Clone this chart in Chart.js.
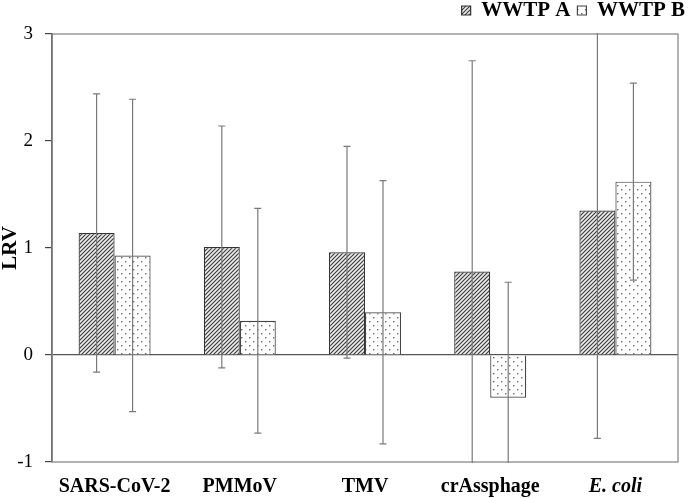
<!DOCTYPE html>
<html>
<head>
<meta charset="utf-8">
<script src="https://cdn.jsdelivr.net/npm/chart.js@4/dist/chart.umd.min.js"></script>
<style>
	body{margin:0;background:#fff;}
	#wrap{width:692px;height:498px;position:relative;}
</style>
</head>
<body>
<div id="wrap"><canvas id="chart"></canvas></div>
<script>
let categories = ['SARS-CoV-2','PMMoV','TMV','crAssphage','E. coli'];
let wwtpA = [1.14, 1.01, 0.96, 0.78, 1.35];
let wwtpB = [0.93, 0.32, 0.40, -0.40, 1.62];
let errA = [1.30, 1.13, 0.99, 1.97, 2.13];
let errB = [1.46, 1.05, 1.23, 1.08, 0.92];
let yTicks = [-1, 0, 1, 2, 3];

let serif = '"Liberation Serif", "Times New Roman", serif';

function hatchPattern(){
	let c = document.createElement('canvas');
	c.width = 4; c.height = 4;
	let g = c.getContext('2d');
	g.fillStyle = '#ececec';
	g.fillRect(0,0,4,4);
	g.strokeStyle = '#3a3a3a';
	g.lineWidth = 1.1;
	g.beginPath();
	g.moveTo(-1,5); g.lineTo(5,-1);
	g.moveTo(-1,1); g.lineTo(1,-1);
	g.moveTo(3,5); g.lineTo(5,3);
	g.stroke();
	return g.createPattern(c,'repeat');
}

function dotPattern(){
	let c = document.createElement('canvas');
	c.width = 8; c.height = 8;
	let g = c.getContext('2d');
	g.fillStyle = '#ffffff';
	g.fillRect(0,0,8,8);
	g.fillStyle = '#6a6a6a';
	g.fillRect(1,1,1.4,1.4);
	g.fillRect(5,5,1.4,1.4);
	return g.createPattern(c,'repeat');
}

// error bars, clipped to the plot area
let errorBars = {
	id:'errorBars',
	afterDatasetsDraw(chart){
		let ctx = chart.ctx;
		let y = chart.scales.y;
		let area = chart.chartArea;
		let errs = [errA, errB];
		ctx.save();
		ctx.beginPath();
		ctx.rect(area.left, area.top - 1, area.right - area.left, area.bottom - area.top + 2);
		ctx.clip();
		ctx.strokeStyle = '#7a7a7a';
		ctx.lineWidth = 1.2;
		chart.data.datasets.forEach(function(ds, i){
			let meta = chart.getDatasetMeta(i);
			meta.data.forEach(function(bar, j){
				let v = ds.data[j];
				let hi = y.getPixelForValue(v + errs[i][j]);
				let lo = y.getPixelForValue(v - errs[i][j]);
				ctx.beginPath();
				ctx.moveTo(bar.x, hi); ctx.lineTo(bar.x, lo);
				ctx.moveTo(bar.x - 3.5, hi); ctx.lineTo(bar.x + 3.5, hi);
				ctx.moveTo(bar.x - 3.5, lo); ctx.lineTo(bar.x + 3.5, lo);
				ctx.stroke();
			});
		});
		ctx.restore();
	}
};

// plot frame and legend placement
let frame = {
	id:'frame',
	beforeInit(chart){
		let fit = chart.legend.fit;
		chart.legend.fit = function(){
			fit.bind(chart.legend)();
			this.height = 34;
		};
	},
	afterLayout(chart){
		chart.legend.top = -7;
	},
	beforeDatasetsDraw(chart){
		let ctx = chart.ctx;
		let a = chart.chartArea;
		ctx.save();
		ctx.strokeStyle = '#8a8a8a';
		ctx.lineWidth = 1.3;
		ctx.strokeRect(a.left, a.top, a.right - a.left, a.bottom - a.top);
		ctx.restore();
	}
};

let ctx = document.getElementById('chart');

let dataChart = {
	labels:categories,
	datasets:[{
		label:'WWTP A',
		data:wwtpA,
		backgroundColor:hatchPattern(),
		borderColor:'#333333',
		borderWidth:1.2
	},{
		label:'WWTP B',
		data:wwtpB,
		backgroundColor:dotPattern(),
		borderColor:'#444444',
		borderWidth:1.2
	}]
};

let myChart = new Chart(ctx,{
	type:'bar',
	data:dataChart,
	plugins:[errorBars, frame],
	options:{
		responsive:true,
		maintainAspectRatio:false,
		animation:false,
		layout:{padding:0},
		datasets:{bar:{categoryPercentage:0.575, barPercentage:1}},
		plugins:{
			tooltip:{enabled:false},
			legend:{
				display:true,
				position:'top',
				align:'end',
				labels:{
					boxWidth:9,
					boxHeight:9,
					padding:7,
					color:'#000',
					font:{family:serif, size:21, weight:'bold'}
				}
			}
		},
		scales:{
			x:{
				grid:{display:false, drawTicks:false},
				border:{display:false},
				ticks:{
					color:'#000',
					padding:13,
					maxRotation:0,
					autoSkip:false,
					font:function(c){
						return {family:serif, size:20, weight:'bold', style:(c.index === 4 ? 'italic' : 'normal')};
					}
				},
				afterFit:function(s){ s.height = 36; }
			},
			y:{
				min:-1,
				max:3,
				afterBuildTicks:function(s){ s.ticks = yTicks.map(function(v){ return {value:v}; }); },
				grid:{
					color:function(c){ return (c.tick && c.tick.value === 0) ? '#555555' : 'rgba(0,0,0,0)'; },
					lineWidth:1.2,
					tickColor:'#444444',
					tickLength:7,
					drawTicks:true
				},
				border:{display:true, color:'#444444', width:1.6},
				ticks:{
					color:'#000',
					padding:12,
					font:{family:serif, size:19}
				},
				title:{
					display:true,
					text:'LRV',
					color:'#000',
					padding:0,
					font:{family:serif, size:21, weight:'bold', lineHeight:1}
				},
				afterFit:function(s){ s.width = 52; }
			},
			yR:{
				position:'right',
				display:true,
				grid:{display:false, drawTicks:false},
				border:{display:false},
				ticks:{display:false},
				afterFit:function(s){ s.width = 14; }
			}
		}
	}
});
</script>
</body>
</html>
